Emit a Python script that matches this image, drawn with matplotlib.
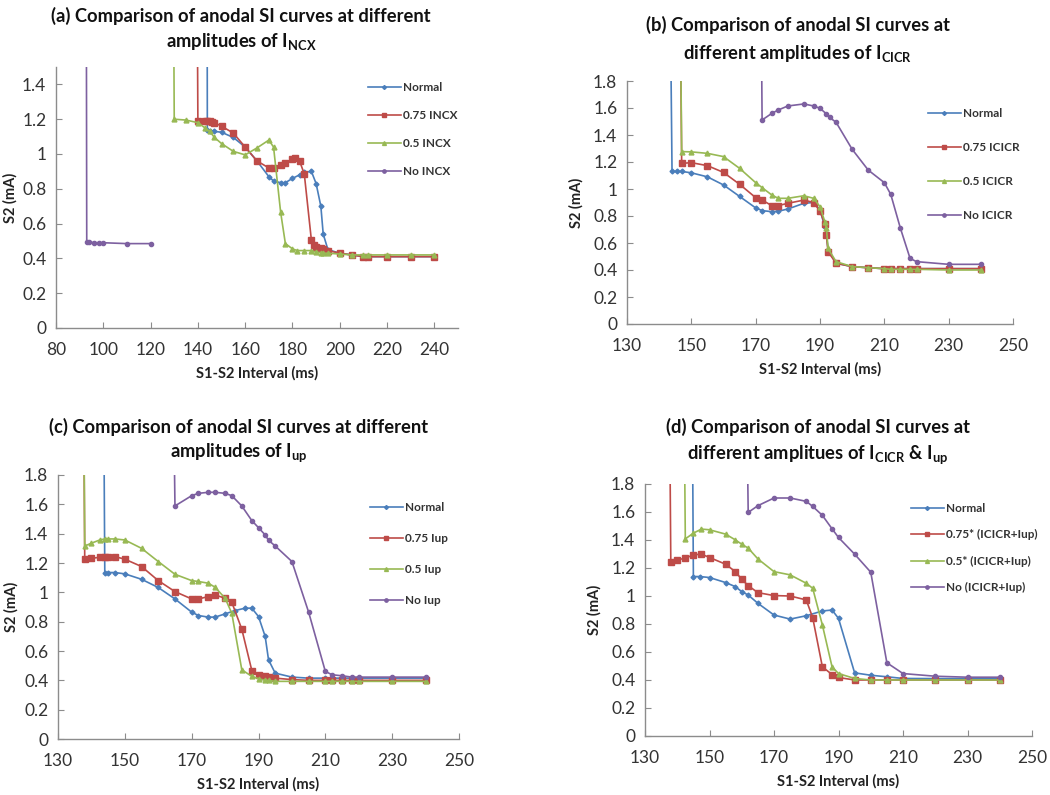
import matplotlib
matplotlib.use("Agg")
import matplotlib.pyplot as plt

plt.rcParams['font.family'] = ['Lato', 'DejaVu Sans']
plt.rcParams['mathtext.fontset'] = 'custom'
plt.rcParams['mathtext.rm'] = 'Lato:bold'
plt.rcParams['mathtext.it'] = 'Lato:bold'
plt.rcParams['mathtext.bf'] = 'Lato:bold'

# ---- data (S1-S2 interval in ms, S2 threshold in mA) ----
# the first point of each series is the (off-scale) refractory threshold

# (a) INCX
a_x_normal = [143.8, 144, 145, 147, 150, 155, 160, 165, 170, 172, 175, 177, 180, 183, 185, 188,
              190, 192, 193, 195, 200, 205, 210, 212, 220, 230, 240]
a_y_normal = [3.0, 1.14, 1.135, 1.13, 1.125, 1.095, 1.04, 0.96, 0.87, 0.845, 0.835, 0.835, 0.86,
              0.88, 0.895, 0.90, 0.83, 0.70, 0.54, 0.45, 0.43, 0.42, 0.41, 0.41, 0.41, 0.41, 0.41]
a_x_075 = [139.3, 140, 143, 144, 145, 146, 147, 150, 155, 160, 165, 170, 172, 175, 177, 180, 181,
           183, 185, 188, 189, 190, 192, 193, 195, 200, 205, 210, 212, 220, 230, 240]
a_y_075 = [3.0, 1.19, 1.19, 1.19, 1.19, 1.185, 1.18, 1.16, 1.12, 1.04, 0.96, 0.92, 0.92, 0.935,
           0.95, 0.97, 0.975, 0.96, 0.885, 0.505, 0.475, 0.465, 0.46, 0.455, 0.445, 0.43, 0.42,
           0.41, 0.41, 0.41, 0.41, 0.41]
a_x_05 = [129.3, 130, 135, 140, 143, 145, 147, 150, 155, 160, 165, 170, 172, 175, 177, 180, 182,
          185, 188, 190, 192, 193, 195, 200, 205, 210, 212, 220, 230, 240]
a_y_05 = [3.0, 1.20, 1.195, 1.18, 1.15, 1.13, 1.095, 1.06, 1.015, 0.995, 1.035, 1.08, 1.04, 0.665,
          0.485, 0.455, 0.445, 0.445, 0.445, 0.435, 0.433, 0.43, 0.43, 0.425, 0.42, 0.42, 0.42,
          0.42, 0.42, 0.42]
a_x_no = [92.7, 93, 94, 96, 98, 100, 110, 120]
a_y_no = [3.0, 0.495, 0.495, 0.49, 0.49, 0.49, 0.485, 0.485]

# (b) ICICR
b_x_normal = [143.2, 144, 145.5, 147, 150, 155, 160, 165, 170, 172, 175, 177, 180, 185, 188, 190,
              191.5, 192, 192.5, 195, 200, 205, 210, 212, 215, 218, 220, 230, 240]
b_y_normal = [3.0, 1.13, 1.13, 1.13, 1.12, 1.09, 1.03, 0.945, 0.86, 0.84, 0.832, 0.835, 0.852,
              0.894, 0.90, 0.845, 0.72, 0.67, 0.55, 0.45, 0.425, 0.417, 0.41, 0.41, 0.41, 0.41,
              0.41, 0.41, 0.41]
b_x_075 = [146.3, 147, 150, 155, 160, 165, 170, 172, 175, 177, 180, 185, 188, 190, 191.5, 192,
           192.5, 195, 200, 205, 210, 212, 215, 218, 220, 230, 240]
b_y_075 = [3.0, 1.19, 1.195, 1.173, 1.123, 1.035, 0.936, 0.918, 0.877, 0.877, 0.894, 0.918, 0.90,
           0.837, 0.74, 0.66, 0.536, 0.45, 0.425, 0.417, 0.41, 0.41, 0.41, 0.41, 0.41, 0.41, 0.41]
b_x_05 = [146.3, 147, 150, 155, 160, 165, 170, 172, 175, 177, 180, 185, 188, 190, 191.5, 192,
          192.5, 195, 200, 205, 210, 212, 215, 218, 220, 230, 240]
b_y_05 = [3.0, 1.277, 1.275, 1.264, 1.24, 1.153, 1.047, 1.01, 0.956, 0.931, 0.931, 0.95, 0.931,
          0.869, 0.758, 0.708, 0.56, 0.462, 0.425, 0.417, 0.41, 0.405, 0.405, 0.405, 0.405, 0.40,
          0.40]
b_x_no = [171.5, 172, 175, 177, 180, 185, 188, 190, 192, 193, 195, 200, 205, 210, 212, 215, 218,
          220, 230, 240]
b_y_no = [3.0, 1.511, 1.56, 1.585, 1.615, 1.63, 1.615, 1.598, 1.556, 1.53, 1.494, 1.294, 1.14,
          1.047, 0.96, 0.709, 0.486, 0.462, 0.442, 0.442]

# (c) Iup
c_x_normal = [143.5, 144, 145, 147, 150, 155, 160, 165, 170, 172, 175, 177, 180, 183, 186, 188,
              190, 192, 193, 195, 200, 205, 210, 212, 215, 218, 220, 230, 240]
c_y_normal = [3.0, 1.135, 1.135, 1.135, 1.126, 1.089, 1.033, 0.955, 0.865, 0.842, 0.831, 0.831,
              0.853, 0.876, 0.892, 0.892, 0.835, 0.699, 0.54, 0.449, 0.422, 0.415, 0.415, 0.415,
              0.415, 0.415, 0.415, 0.415, 0.415]
c_x_075 = [137.5, 138, 140, 142.5, 144, 145, 147, 150, 155, 160, 165, 170, 172, 175, 177, 180,
           182, 185, 188, 190, 192, 193, 195, 200, 205, 210, 212, 215, 218, 220, 230, 240]
c_y_075 = [3.0, 1.226, 1.232, 1.239, 1.244, 1.244, 1.244, 1.226, 1.176, 1.08, 1.005, 0.955, 0.955,
           0.971, 0.982, 0.96, 0.933, 0.749, 0.467, 0.433, 0.427, 0.425, 0.415, 0.405, 0.40, 0.40,
           0.40, 0.40, 0.40, 0.40, 0.40, 0.40]
c_x_05 = [137.5, 138, 140, 142.5, 144, 145, 147, 150, 155, 160, 165, 170, 172, 175, 177, 180, 182,
          185, 188, 190, 192, 193, 195, 200, 205, 210, 212, 215, 218, 220, 230, 240]
c_y_05 = [3.0, 1.316, 1.335, 1.357, 1.364, 1.364, 1.364, 1.357, 1.30, 1.21, 1.123, 1.08, 1.074,
          1.062, 1.035, 0.96, 0.858, 0.472, 0.427, 0.411, 0.40, 0.40, 0.393, 0.393, 0.393, 0.393,
          0.393, 0.393, 0.393, 0.393, 0.393, 0.393]
c_x_no = [164.2, 165, 170, 172, 175, 177, 180, 182, 185, 188, 190, 192, 193, 195, 200, 205, 210,
          212, 215, 218, 220, 230, 240]
c_y_no = [3.0, 1.589, 1.659, 1.675, 1.682, 1.682, 1.675, 1.659, 1.589, 1.489, 1.441, 1.391, 1.355,
          1.316, 1.21, 0.865, 0.461, 0.438, 0.431, 0.422, 0.422, 0.422, 0.422]

# (d) ICICR & Iup
d_x_normal = [144.5, 145, 147, 150, 155, 158, 160, 162, 165, 170, 175, 180, 185, 188, 190, 195,
              200, 205, 210, 220, 230, 240]
d_y_normal = [3.0, 1.139, 1.139, 1.132, 1.096, 1.067, 1.031, 1.007, 0.948, 0.864, 0.835, 0.859,
              0.893, 0.90, 0.84, 0.451, 0.434, 0.423, 0.411, 0.41, 0.41, 0.41]
d_x_075 = [137.4, 138, 140, 142.5, 145, 147.5, 150, 155, 158, 160, 162, 165, 170, 175, 180, 182,
           185, 188, 190, 195, 200, 205, 210, 220, 230, 240]
d_y_075 = [3.0, 1.246, 1.258, 1.27, 1.294, 1.299, 1.275, 1.227, 1.174, 1.119, 1.074, 1.024, 1.003,
           1.0, 0.972, 0.845, 0.494, 0.439, 0.418, 0.40, 0.40, 0.40, 0.40, 0.40, 0.40, 0.40]
d_x_05 = [141.9, 142.5, 145, 147.5, 150, 155, 158, 160, 162, 165, 170, 175, 180, 182, 185, 188,
          190, 195, 200, 205, 210, 220, 230, 240]
d_y_05 = [3.0, 1.408, 1.449, 1.478, 1.473, 1.442, 1.401, 1.37, 1.342, 1.265, 1.174, 1.151, 1.091,
          1.055, 0.793, 0.494, 0.446, 0.411, 0.40, 0.40, 0.40, 0.40, 0.40, 0.40]
d_x_no = [161.2, 162, 165, 170, 175, 180, 182, 185, 188, 190, 195, 200, 205, 210, 220, 230, 240]
d_y_no = [3.0, 1.597, 1.645, 1.70, 1.70, 1.676, 1.64, 1.576, 1.48, 1.418, 1.299, 1.17, 0.523,
          0.446, 0.427, 0.42, 0.42]

labels_a = ['Normal', '0.75 INCX', '0.5 INCX', 'No INCX']
labels_b = ['Normal', '0.75 ICICR', '0.5 ICICR', 'No ICICR']
labels_c = ['Normal', '0.75 Iup', '0.5 Iup', 'No Iup']
labels_d = ['Normal', '0.75* (ICICR+Iup)', '0.5* (ICICR+Iup)', 'No (ICICR+Iup)']

titles = [
    ('(a) Comparison of anodal SI curves at different', r'amplitudes of $\mathrm{I}_{\mathrm{NCX}}$'),
    ('(b) Comparison of anodal SI curves at', r'different amplitudes of $\mathrm{I}_{\mathrm{CICR}}$'),
    ('(c) Comparison of anodal SI curves at different', r'amplitudes of $\mathrm{I}_{\mathrm{up}}$'),
    ('(d) Comparison of anodal SI curves at',
     r'different amplitues of $\mathrm{I}_{\mathrm{CICR}}$ & $\mathrm{I}_{\mathrm{up}}$'),
]

colors = ['#4A7EBB', '#BE4B48', '#98B954', '#7D60A0']
markers = ['D', 's', '^', 'o']
msizes = [2.5, 3.8, 3.5, 3]

W, H = 1050, 795
fig = plt.figure(figsize=(W / 100, H / 100), dpi=100)


def fr(left, top, right, bottom):
    return [left / W, 1 - bottom / H, (right - left) / W, (bottom - top) / H]


panels = [
    dict(rect=fr(56, 67, 458, 328), xlim=(80, 250), xt=range(80, 241, 20), ylim=(0, 1.5),
         yt=[0, 0.2, 0.4, 0.6, 0.8, 1, 1.2, 1.4],
         series=[(a_x_normal, a_y_normal), (a_x_075, a_y_075), (a_x_05, a_y_05), (a_x_no, a_y_no)],
         labels=labels_a, title=titles[0], tx=241, ty=(16, 42), leg=(362, 76), lsp=1.45, ylp=3),
    dict(rect=fr(627, 81, 1013, 324), xlim=(130, 250), xt=range(130, 251, 20), ylim=(0, 1.8),
         yt=[0, 0.2, 0.4, 0.6, 0.8, 1, 1.2, 1.4, 1.6, 1.8],
         series=[(b_x_normal, b_y_normal), (b_x_075, b_y_075), (b_x_05, b_y_05), (b_x_no, b_y_no)],
         labels=labels_b, title=titles[1], tx=798, ty=(25, 53), leg=(922, 102), lsp=1.95, ylp=7),
    dict(rect=fr(58, 475, 459, 739), xlim=(130, 250), xt=range(130, 251, 20), ylim=(0, 1.8),
         yt=[0, 0.2, 0.4, 0.6, 0.8, 1, 1.2, 1.4, 1.6, 1.8],
         series=[(c_x_normal, c_y_normal), (c_x_075, c_y_075), (c_x_05, c_y_05), (c_x_no, c_y_no)],
         labels=labels_c, title=titles[2], tx=239, ty=(427, 453), leg=(364, 496), lsp=1.7, ylp=4),
    dict(rect=fr(645, 484, 1032, 736), xlim=(130, 250), xt=range(130, 251, 20), ylim=(0, 1.8),
         yt=[0, 0.2, 0.4, 0.6, 0.8, 1, 1.2, 1.4, 1.6, 1.8],
         series=[(d_x_normal, d_y_normal), (d_x_075, d_y_075), (d_x_05, d_y_05), (d_x_no, d_y_no)],
         labels=labels_d, title=titles[3], tx=818, ty=(427, 455), leg=(905, 497), lsp=1.3, ylp=7),
]

for p in panels:
    ax = fig.add_axes(p['rect'])
    for (xs, ys), lab, c, m, ms in zip(p['series'], p['labels'], colors, markers, msizes):
        ax.plot(xs, ys, color=c, lw=1.2, marker=m, ms=ms, mfc=c, mec=c, label=lab)
    ax.set_xlim(*p['xlim'])
    ax.set_ylim(*p['ylim'])
    ax.set_xticks(list(p['xt']))
    ax.set_yticks(p['yt'])
    ax.set_yticklabels(['%g' % v for v in p['yt']])
    for s in ['top', 'right']:
        ax.spines[s].set_visible(False)
    for s in ['left', 'bottom']:
        ax.spines[s].set_color('#8c8c8c')
        ax.spines[s].set_linewidth(1.0)
    ax.tick_params(direction='in', length=4, color='#8c8c8c', labelsize=12.5,
                   labelcolor='#333333')
    ax.tick_params(axis='x', pad=10)
    ax.tick_params(axis='y', pad=7)
    ax.set_xlabel('S1-S2 Interval (ms)', fontsize=10.5, fontweight='bold', color='#222222',
                  labelpad=6)
    ax.set_ylabel('S2 (mA)', fontsize=10.5, fontweight='bold', color='#222222',
                  labelpad=p['ylp'])
    ax.legend(loc='upper left', bbox_to_anchor=(p['leg'][0] / W, 1 - p['leg'][1] / H),
              bbox_transform=fig.transFigure, frameon=False,
              prop=dict(weight='bold', size=8.5), labelcolor='#333333', handlelength=2.8,
              handletextpad=0.2, borderpad=0, labelspacing=p['lsp'], markerscale=0.8)
    fig.text(p['tx'] / W, 1 - p['ty'][0] / H, p['title'][0], ha='center', va='center',
             fontsize=13.2, fontweight='bold', color='#111111')
    fig.text(p['tx'] / W, 1 - p['ty'][1] / H, p['title'][1], ha='center', va='center',
             fontsize=13.2, fontweight='bold', color='#111111')

fig.savefig('out.png', dpi=100)
